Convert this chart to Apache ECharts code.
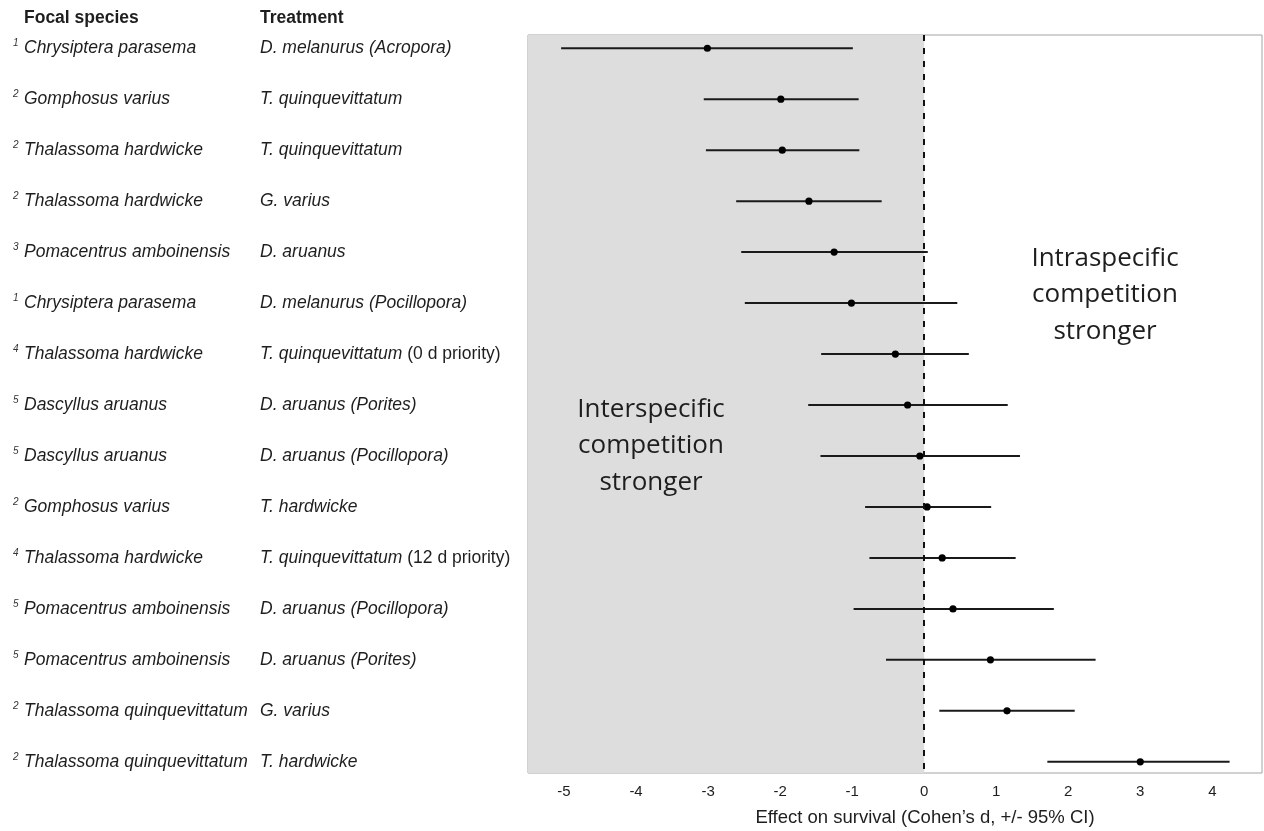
<!DOCTYPE html>
<html>
<head>
<meta charset="utf-8">
<script src="https://cdn.jsdelivr.net/npm/echarts@6.0.0/dist/echarts.min.js"></script>
<style>
html,body{margin:0;padding:0;background:#fff;}
#chart{width:1264px;height:831px;}
</style>
</head>
<body>
<div id="chart"></div>
<script>
// ---- data ----
const refs = [1,2,2,2,3,1,4,5,5,2,4,5,5,2,2];
const focalSpecies = [
  'Chrysiptera parasema','Gomphosus varius','Thalassoma hardwicke','Thalassoma hardwicke',
  'Pomacentrus amboinensis','Chrysiptera parasema','Thalassoma hardwicke','Dascyllus aruanus',
  'Dascyllus aruanus','Gomphosus varius','Thalassoma hardwicke','Pomacentrus amboinensis',
  'Pomacentrus amboinensis','Thalassoma quinquevittatum','Thalassoma quinquevittatum'
];
const treatments = [
  'D. melanurus (Acropora)','T. quinquevittatum','T. quinquevittatum','G. varius',
  'D. aruanus','D. melanurus (Pocillopora)','T. quinquevittatum','D. aruanus (Porites)',
  'D. aruanus (Pocillopora)','T. hardwicke','T. quinquevittatum','D. aruanus (Pocillopora)',
  'D. aruanus (Porites)','G. varius','T. hardwicke'
];
const treatmentNotes = ['','','','','','',' (0 d priority)','','','',' (12 d priority)','','','',''];
const effect = [-3.01,-1.99,-1.97,-1.60,-1.25,-1.01,-0.40,-0.23,-0.06,0.04,0.25,0.40,0.92,1.15,3.00];
const ciLow  = [-5.04,-3.06,-3.03,-2.61,-2.54,-2.49,-1.43,-1.61,-1.44,-0.82,-0.76,-0.98,-0.53,0.21,1.71];
const ciHigh = [-0.99,-0.91,-0.90,-0.59,0.05,0.46,0.62,1.16,1.33,0.93,1.27,1.80,2.38,2.09,4.24];
const xTicks = [-5,-4,-3,-2,-1,0,1,2,3,4];
const xTitle = 'Effect on survival (Cohen\u2019s d, +/- 95% CI)';
const headers = ['Focal species','Treatment'];
const interText = 'Interspecific\ncompetition\nstronger';
const intraText = 'Intraspecific\ncompetition\nstronger';

const X_MIN = -5.5, X_MAX = 4.69;
const rows = focalSpecies.map((_, i) => i + 1);
const data = rows.map((r, i) => [ciLow[i], ciHigh[i], effect[i], r]);

const chart = echarts.init(document.getElementById('chart'));
const txt = '#1e1e1e';
const option = {
  animation: false,
  backgroundColor: '#fff',
  grid: {left: 528, right: 2, top: 35, bottom: 58, show: true, borderColor: '#a4a4a4', borderWidth: 1, backgroundColor: '#fff'},
  xAxis: {
    type: 'value', min: X_MIN, max: X_MAX,
    axisLine: {show: false}, axisTick: {show: false}, splitLine: {show: false},
    axisLabel: {customValues: xTicks, fontFamily: 'Liberation Sans', fontSize: 15, color: txt, margin: 11}
  },
  yAxis: {
    type: 'value', min: 0.74, max: 15.22, inverse: true,
    axisLine: {show: false}, axisTick: {show: false}, splitLine: {show: false},
    axisLabel: {
      customValues: rows,
      align: 'left', margin: 515,
      formatter: function (v) {
        const i = Math.round(v) - 1;
        if (i < 0 || i >= focalSpecies.length) return '';
        let s = '{ref|' + refs[i] + '}{sp|' + focalSpecies[i] + '}{tr|' + treatments[i] + '}';
        if (treatmentNotes[i]) s += '{note|' + treatmentNotes[i] + '}';
        return s;
      },
      rich: {
        ref: {fontFamily: 'Liberation Sans', fontStyle: 'italic', fontSize: 10, color: '#333', width: 11, verticalAlign: 'top', lineHeight: 20},
        sp: {fontFamily: 'Liberation Sans', fontStyle: 'italic', fontSize: 17.5, color: txt, width: 236, lineHeight: 20},
        tr: {fontFamily: 'Liberation Sans', fontStyle: 'italic', fontSize: 17.5, color: txt, lineHeight: 20},
        note: {fontFamily: 'Liberation Sans', fontSize: 17.5, color: txt, lineHeight: 20}
      }
    }
  },
  series: [{
    type: 'custom',
    data: data,
    encode: {x: [0, 1, 2], y: 3},
    renderItem: function (params, api) {
      const y = api.value(3);
      const p1 = api.coord([api.value(0), y]);
      const p2 = api.coord([api.value(1), y]);
      const pc = api.coord([api.value(2), y]);
      return {
        type: 'group',
        children: [
          {type: 'line', shape: {x1: p1[0], y1: p1[1], x2: p2[0], y2: p2[1]}, style: {stroke: '#1a1a1a', lineWidth: 2}},
          {type: 'circle', shape: {cx: pc[0], cy: pc[1], r: 3.6}, style: {fill: '#000'}}
        ]
      };
    },
    markArea: {
      silent: true,
      itemStyle: {color: '#dddddd'},
      data: [[{xAxis: X_MIN}, {xAxis: 0}]]
    },
    markLine: {
      silent: true, symbol: 'none',
      label: {show: false},
      lineStyle: {color: '#111', width: 2, type: [6, 7]},
      data: [{xAxis: 0}]
    },
    z: 3
  }],
  graphic: [
    {type: 'text', left: 24, top: 9, style: {text: headers[0], font: 'bold 17.5px "Liberation Sans"', fill: txt}},
    {type: 'text', left: 260, top: 9, style: {text: headers[1], font: 'bold 17.5px "Liberation Sans"', fill: txt}},
    {type: 'text', x: 651, y: 446, z: 10, style: {text: interText, font: '26px "Open Sans"', fill: '#1e1e1e', align: 'center', verticalAlign: 'middle', lineHeight: 36.5}},
    {type: 'text', x: 1105, y: 295, z: 10, style: {text: intraText, font: '26px "Open Sans"', fill: '#1e1e1e', align: 'center', verticalAlign: 'middle', lineHeight: 36.5}},
    {type: 'text', x: 925, y: 818, style: {text: xTitle, font: '18.5px "Liberation Sans"', fill: txt, align: 'center', verticalAlign: 'middle'}}
  ]
};
chart.setOption(option);
</script>
</body>
</html>
